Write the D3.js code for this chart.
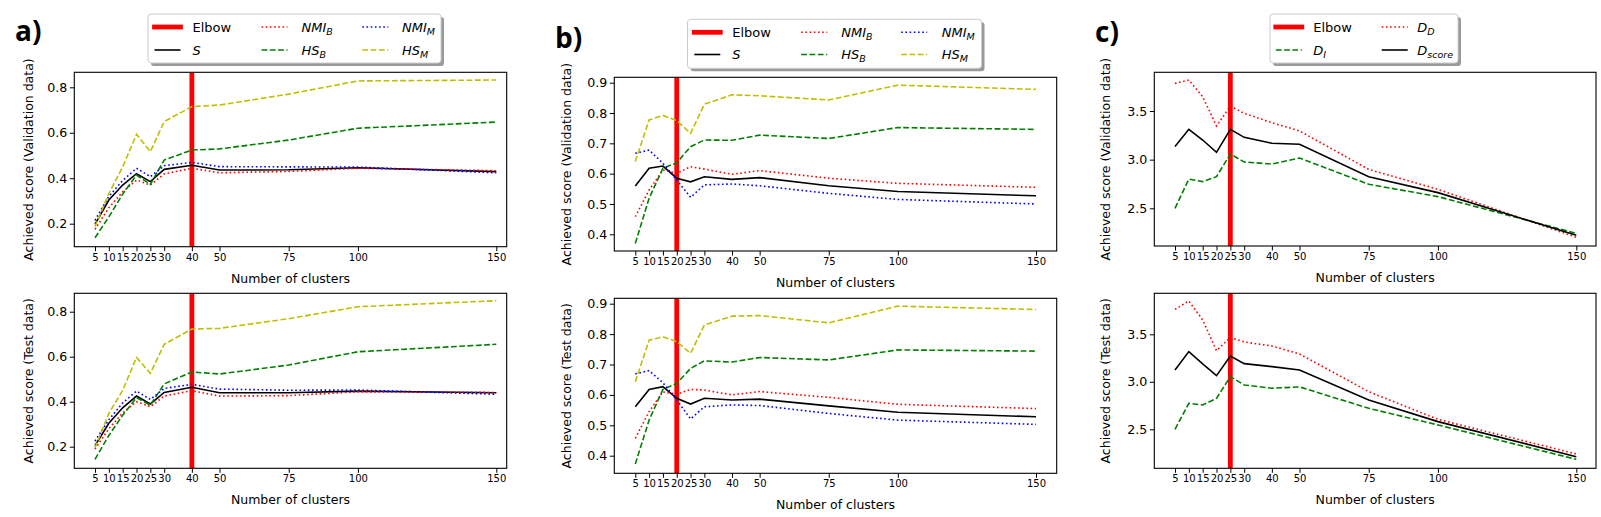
<!DOCTYPE html>
<html lang="en">
<head>
<meta charset="UTF-8">
<title>Achieved score vs number of clusters</title>
<script src="https://d3js.org/d3.v7.min.js"></script>
<style>
  body { margin: 0; background: #fff; font-family: "DejaVu Sans", sans-serif; }
  svg text { font-family: "DejaVu Sans", sans-serif; fill: #000; }
</style>
</head>
<body>
<div id="chart"></div>
<script>
// number of clusters (x values shared by every panel)
const clusters = [5, 10, 15, 20, 25, 30, 40, 50, 75, 100, 150];

// panel a) - validation
const aValS    = [0.197, 0.304, 0.370, 0.420, 0.385, 0.439, 0.457, 0.436, 0.437, 0.446, 0.429];
const aValNmiB = [0.175, 0.270, 0.340, 0.392, 0.370, 0.419, 0.444, 0.424, 0.430, 0.444, 0.433];
const aValHsB  = [0.138, 0.230, 0.330, 0.414, 0.373, 0.480, 0.524, 0.529, 0.568, 0.620, 0.647];
const aValNmiM = [0.215, 0.320, 0.390, 0.444, 0.407, 0.455, 0.470, 0.451, 0.450, 0.449, 0.424];
const aValHsM  = [0.187, 0.333, 0.450, 0.593, 0.517, 0.649, 0.715, 0.722, 0.770, 0.828, 0.832];
// panel a) - test
const aTestS    = [0.205, 0.304, 0.373, 0.425, 0.390, 0.441, 0.464, 0.440, 0.440, 0.447, 0.440];
const aTestNmiB = [0.190, 0.280, 0.350, 0.400, 0.378, 0.425, 0.449, 0.425, 0.427, 0.444, 0.441];
const aTestHsB  = [0.144, 0.250, 0.340, 0.418, 0.385, 0.479, 0.532, 0.523, 0.563, 0.622, 0.655];
const aTestNmiM = [0.225, 0.320, 0.395, 0.447, 0.410, 0.459, 0.477, 0.456, 0.451, 0.452, 0.433];
const aTestHsM  = [0.195, 0.348, 0.450, 0.597, 0.526, 0.655, 0.723, 0.726, 0.769, 0.822, 0.849];

// panel b) - validation
const bValS    = [0.559, 0.618, 0.625, 0.585, 0.573, 0.590, 0.581, 0.587, 0.560, 0.541, 0.527];
const bValNmiB = [0.458, 0.546, 0.612, 0.601, 0.623, 0.615, 0.598, 0.610, 0.585, 0.568, 0.555];
const bValHsB  = [0.370, 0.519, 0.618, 0.636, 0.689, 0.711, 0.710, 0.727, 0.716, 0.752, 0.746];
const bValNmiM = [0.667, 0.678, 0.634, 0.579, 0.522, 0.563, 0.566, 0.560, 0.535, 0.515, 0.500];
const bValHsM  = [0.640, 0.777, 0.792, 0.775, 0.733, 0.829, 0.860, 0.857, 0.843, 0.892, 0.878];
// panel b) - test
const bTestS    = [0.561, 0.618, 0.627, 0.589, 0.570, 0.589, 0.583, 0.586, 0.564, 0.543, 0.528];
const bTestNmiB = [0.457, 0.545, 0.610, 0.602, 0.618, 0.616, 0.600, 0.611, 0.592, 0.569, 0.555];
const bTestHsB  = [0.373, 0.517, 0.618, 0.638, 0.687, 0.712, 0.708, 0.723, 0.715, 0.748, 0.744];
const bTestNmiM = [0.669, 0.680, 0.640, 0.583, 0.521, 0.561, 0.567, 0.565, 0.539, 0.517, 0.503];
const bTestHsM  = [0.643, 0.780, 0.791, 0.775, 0.737, 0.830, 0.859, 0.861, 0.837, 0.892, 0.881];

// panel c) - validation
const cValDI = [2.500, 2.801, 2.774, 2.825, 3.058, 2.976, 2.955, 3.017, 2.747, 2.620, 2.243];
const cValDD = [3.784, 3.818, 3.647, 3.346, 3.551, 3.476, 3.380, 3.295, 2.900, 2.695, 2.202];
const cValDs = [3.134, 3.312, 3.202, 3.075, 3.312, 3.229, 3.168, 3.158, 2.825, 2.661, 2.223];
// panel c) - test
const cTestDI = [2.500, 2.774, 2.756, 2.826, 3.054, 2.967, 2.932, 2.946, 2.721, 2.546, 2.184];
const cTestDD = [3.763, 3.851, 3.651, 3.328, 3.468, 3.419, 3.377, 3.293, 2.896, 2.605, 2.240];
const cTestDs = [3.125, 3.318, 3.188, 3.065, 3.272, 3.191, 3.160, 3.125, 2.809, 2.581, 2.212];

// elbow points
const elbows = { a: 40, b: 20, c: 25 };

// line styles, keyed by series
const styles = {
  S:    { color: "#000000", dash: null },
  NMIB: { color: "#ff0000", dash: "1.6,2.6" },
  HSB:  { color: "#008000", dash: "5.8,2.5" },
  NMIM: { color: "#0000ff", dash: "1.6,2.6" },
  HSM:  { color: "#bfbf00", dash: "5.8,2.5" },
  DI:   { color: "#008000", dash: "5.8,2.5" },
  DD:   { color: "#ff0000", dash: "1.6,2.6" },
  Ds:   { color: "#000000", dash: null }
};
// legend labels: [main, subscript]
const labels = {
  S: ["S", ""], NMIB: ["NMI", "B"], HSB: ["HS", "B"], NMIM: ["NMI", "M"], HSM: ["HS", "M"],
  DI: ["D", "I"], DD: ["D", "D"], Ds: ["D", "score"]
};

const W = 1601, H = 517;
const svg = d3.select("#chart").append("svg")
  .attr("width", W).attr("height", H);

const panels = [
  {
    key: "a", tag: "a)", tagX: 15, tagY: 41, ylabelX: 28,
    xr: { left: 74.3, right: 506.7, p5: 95, p150: 496.3 },
    yTicks: [0.2, 0.4, 0.6, 0.8],
    legend: { x: 148, y: 14, w: 293, h: 49, rows: [27, 50],
      entries: [
        { k: "Elbow", hx: 6.5, tx: 44.5, r: 0 }, { k: "S", hx: 6.5, tx: 44.5, r: 1 },
        { k: "NMIB", hx: 113.5, tx: 153.5, r: 0 }, { k: "HSB", hx: 113.5, tx: 153.5, r: 1 },
        { k: "NMIM", hx: 214.3, tx: 254, r: 0 }, { k: "HSM", hx: 214.3, tx: 254, r: 1 }
      ] },
    rows: [
      { top: 72.3, bottom: 246.7, yref: [0.8, 87.3, 0.2, 223.7], ylabel: "Achieved score (Validation data)",
        series: [["S", aValS], ["NMIB", aValNmiB], ["HSB", aValHsB], ["NMIM", aValNmiM], ["HSM", aValHsM]] },
      { top: 293.3, bottom: 468.3, yref: [0.8, 311.7, 0.2, 446.7], ylabel: "Achieved score (Test data)",
        series: [["S", aTestS], ["NMIB", aTestNmiB], ["HSB", aTestHsB], ["NMIM", aTestNmiM], ["HSM", aTestHsM]] }
    ]
  },
  {
    key: "b", tag: "b)", tagX: 555, tagY: 48, ylabelX: 566.7,
    xr: { left: 614.3, right: 1056.7, p5: 635.3, p150: 1036 },
    yTicks: [0.4, 0.5, 0.6, 0.7, 0.8, 0.9],
    legend: { x: 687.5, y: 19.3, w: 294, h: 49, rows: [32.3, 54.5],
      entries: [
        { k: "Elbow", hx: 6.8, tx: 44.8, r: 0 }, { k: "S", hx: 6.8, tx: 44.8, r: 1 },
        { k: "NMIB", hx: 113.7, tx: 153.7, r: 0 }, { k: "HSB", hx: 113.7, tx: 153.7, r: 1 },
        { k: "NMIM", hx: 213.7, tx: 254.2, r: 0 }, { k: "HSM", hx: 213.7, tx: 254.2, r: 1 }
      ] },
    rows: [
      { top: 77.3, bottom: 251, yref: [0.9, 82.7, 0.4, 234.3], ylabel: "Achieved score (Validation data)",
        series: [["S", bValS], ["NMIB", bValNmiB], ["HSB", bValHsB], ["NMIM", bValNmiM], ["HSM", bValHsM]] },
      { top: 298.3, bottom: 473.3, yref: [0.9, 303.7, 0.4, 455.7], ylabel: "Achieved score (Test data)",
        series: [["S", bTestS], ["NMIB", bTestNmiB], ["HSB", bTestHsB], ["NMIM", bTestNmiM], ["HSM", bTestHsM]] }
    ]
  },
  {
    key: "c", tag: "c)", tagX: 1095, tagY: 42, ylabelX: 1105,
    xr: { left: 1154.3, right: 1596, p5: 1175, p150: 1576.3 },
    yTicks: [2.5, 3.0, 3.5],
    legend: { x: 1270, y: 14, w: 188, h: 49, rows: [27, 50],
      entries: [
        { k: "Elbow", hx: 5.8, tx: 43.3, r: 0 }, { k: "DI", hx: 5.8, tx: 43.3, r: 1 },
        { k: "DD", hx: 111.7, tx: 147.3, r: 0 }, { k: "Ds", hx: 111.7, tx: 147.3, r: 1 }
      ] },
    rows: [
      { top: 72.3, bottom: 246, yref: [3.5, 111, 2.5, 208.3], ylabel: "Achieved score (Validation data)",
        series: [["DI", cValDI], ["DD", cValDD], ["Ds", cValDs]] },
      { top: 293.3, bottom: 468.3, yref: [3.5, 334.3, 2.5, 429.3], ylabel: "Achieved score (Test data)",
        series: [["DI", cTestDI], ["DD", cTestDD], ["Ds", cTestDs]] }
    ]
  }
];

const fmt = d3.format(".1f");

function addLabel(sel, k) {
  const [main, sub] = labels[k];
  sel.append("tspan").style("font-style", "italic").text(main);
  if (sub) {
    sel.append("tspan").style("font-style", "italic").style("font-size", "9.5px")
      .attr("dy", 3.5).text(sub);
  }
}

panels.forEach((p, pi) => {
  const x = d3.scaleLinear().domain([5, 150]).range([p.xr.p5, p.xr.p150]);

  // panel tag
  svg.append("text")
    .attr("x", p.tagX).attr("y", p.tagY)
    .style("font-family", "'Open Sans', 'DejaVu Sans', sans-serif")
    .style("font-weight", "bold").style("font-size", "28px")
    .text(p.tag);

  p.rows.forEach((r, ri) => {
    const y = d3.scaleLinear().domain([r.yref[0], r.yref[2]]).range([r.yref[1], r.yref[3]]);
    const g = svg.append("g");
    const clipId = `clip-${p.key}-${ri}`;
    g.append("clipPath").attr("id", clipId).append("rect")
      .attr("x", p.xr.left).attr("y", r.top)
      .attr("width", p.xr.right - p.xr.left).attr("height", r.bottom - r.top);

    const plot = g.append("g").attr("clip-path", `url(#${clipId})`);

    // elbow marker
    plot.append("line")
      .attr("x1", x(elbows[p.key])).attr("x2", x(elbows[p.key]))
      .attr("y1", r.top).attr("y2", r.bottom)
      .attr("stroke", "#ff0000").attr("stroke-width", 4.8);

    const line = d3.line().x((d, i) => x(clusters[i])).y(d => y(d));
    r.series.forEach(([k, vals]) => {
      plot.append("path")
        .datum(vals)
        .attr("d", line)
        .attr("fill", "none")
        .attr("stroke", styles[k].color)
        .attr("stroke-width", 1.6)
        .attr("stroke-dasharray", styles[k].dash);
    });

    // axes
    g.append("g")
      .attr("transform", `translate(0,${r.bottom})`)
      .call(d3.axisBottom(x).tickValues(clusters).tickSize(4.5).tickPadding(2.5))
      .call(a => a.select(".domain").remove())
      .call(a => a.selectAll("text").style("font-size", "10px"));

    g.append("g")
      .attr("transform", `translate(${p.xr.left},0)`)
      .call(d3.axisLeft(y).tickValues(p.yTicks).tickFormat(fmt).tickSize(4.5).tickPadding(2.5))
      .call(a => a.select(".domain").remove())
      .call(a => a.selectAll("text").style("font-size", "12.6px"));

    g.append("rect")
      .attr("x", p.xr.left).attr("y", r.top)
      .attr("width", p.xr.right - p.xr.left).attr("height", r.bottom - r.top)
      .attr("fill", "none").attr("stroke", "#000").attr("stroke-width", 1.1);

    // axis labels
    g.append("text")
      .attr("x", (p.xr.left + p.xr.right) / 2).attr("y", r.bottom + 36)
      .attr("text-anchor", "middle").style("font-size", "12.5px")
      .text("Number of clusters");

    g.append("text")
      .attr("transform", `translate(${p.ylabelX + 4.5},${(r.top + r.bottom) / 2}) rotate(-90)`)
      .attr("text-anchor", "middle").style("font-size", "12.5px")
      .text(r.ylabel);
  });

  // legend
  const L = p.legend;
  const lg = svg.append("g").attr("transform", `translate(${L.x},${L.y})`);
  lg.append("rect").attr("x", 3).attr("y", 3).attr("width", L.w).attr("height", L.h)
    .attr("rx", 3).attr("fill", "#9a9a9a");
  lg.append("rect").attr("width", L.w).attr("height", L.h)
    .attr("rx", 3).attr("fill", "#fff").attr("stroke", "#cccccc").attr("stroke-width", 1);

  L.entries.forEach(e => {
    const yy = L.rows[e.r] - L.y;
    if (e.k === "Elbow") {
      lg.append("line").attr("x1", e.hx).attr("x2", e.hx + 26).attr("y1", yy).attr("y2", yy)
        .attr("stroke", "#ff0000").attr("stroke-width", 4.8).attr("stroke-linecap", "square");
      lg.append("text").attr("x", e.tx).attr("y", yy).attr("dy", "0.36em")
        .style("font-size", "13px").text("Elbow");
    } else {
      lg.append("line").attr("x1", e.hx).attr("x2", e.hx + 26).attr("y1", yy).attr("y2", yy)
        .attr("stroke", styles[e.k].color).attr("stroke-width", 1.6)
        .attr("stroke-dasharray", styles[e.k].dash);
      const t = lg.append("text").attr("x", e.tx).attr("y", yy + 4.5).style("font-size", "13px");
      addLabel(t, e.k);
    }
  });
});
</script>
</body>
</html>
